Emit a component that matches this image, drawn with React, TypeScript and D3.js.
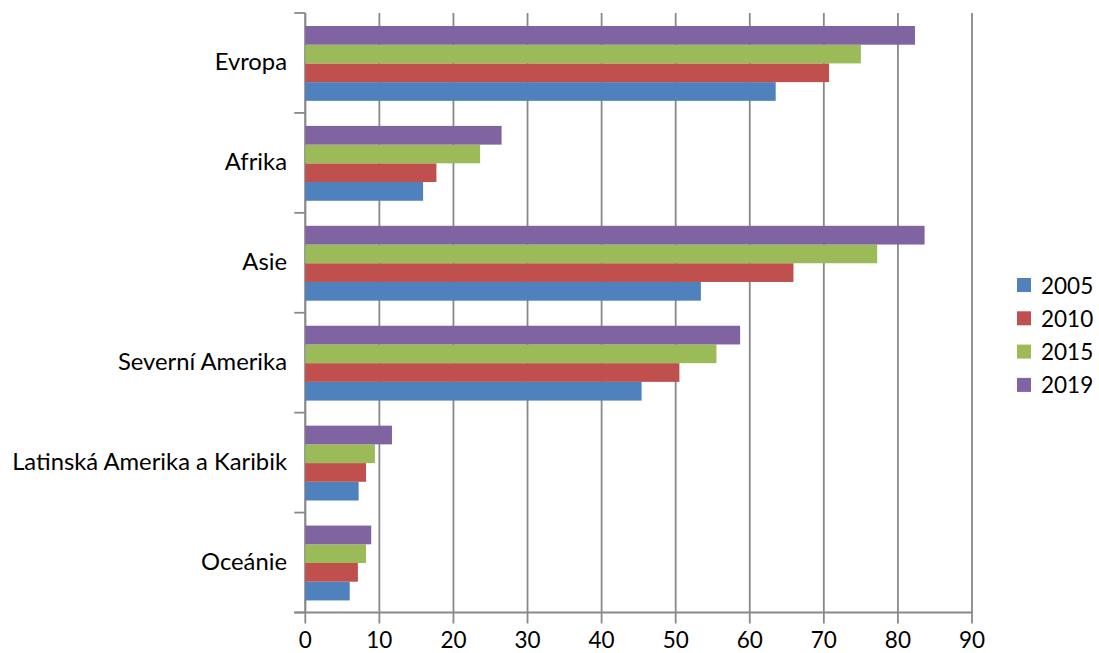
import React from "react";
import * as d3 from "d3";

const categories = ["Evropa", "Afrika", "Asie", "Severní Amerika", "Latinská Amerika a Karibik", "Oceánie"];
const seriesNames = ["2005", "2010", "2015", "2019"];
const values2005 = [63.5, 15.9, 53.4, 45.4, 7.2, 6.0];
const values2010 = [70.7, 17.7, 65.9, 50.5, 8.2, 7.1];
const values2015 = [75.0, 23.6, 77.2, 55.5, 9.4, 8.2];
const values2019 = [82.3, 26.5, 83.6, 58.7, 11.7, 8.9];
const xTicks = [0, 10, 20, 30, 40, 50, 60, 70, 80, 90];
const colors = ["#4F81BD", "#C0504D", "#9BBB59", "#8064A2"];

const W = 1099, H = 653;
const left = 305.3, right = 972, top = 13, bottom = 612.5;
const font = "Lato, 'Open Sans', sans-serif";

export default function App() {
  const seriesVals = [values2005, values2010, values2015, values2019];
  const x = d3.scaleLinear().domain([0, 90]).range([left, right]);
  const y = d3.scaleBand<string>().domain(categories).range([top, bottom]).paddingInner(0).paddingOuter(0);
  const bw = y.bandwidth();
  const groupPad = 0.13 * bw;
  const inner = d3.scaleBand<string>().domain(["2019", "2015", "2010", "2005"]).range([groupPad, bw - groupPad * 0.93]);
  const gridColor = "#898989";
  const bandEdges = d3.range(categories.length + 1).map((i) => top + i * bw);

  return (
    <svg width={W} height={H} style={{ position: "absolute", left: 0, top: 0, background: "#fff" }} fontFamily={font}>
      {xTicks.map((t) => (
        <line key={"g" + t} x1={x(t)} x2={x(t)} y1={top} y2={bottom + 11} stroke={gridColor} strokeWidth={1.8} />
      ))}
      {bandEdges.map((v, i) => (
        <line key={"yt" + i} x1={left - 11} x2={left} y1={v} y2={v} stroke={gridColor} strokeWidth={1.8} />
      ))}
      <line x1={left} x2={left} y1={top} y2={bottom} stroke={gridColor} strokeWidth={1.8} />
      <line x1={left - 11} x2={right} y1={bottom} y2={bottom} stroke={gridColor} strokeWidth={1.8} />
      {categories.map((c, ci) => (
        <g key={c}>
          {seriesNames.map((s, si) => {
            const v = seriesVals[si][ci];
            return (
              <rect key={s} x={x(0)} y={(y(c) as number) + (inner(s) as number)} width={x(v) - x(0)} height={inner.bandwidth()} fill={colors[si]} />
            );
          })}
          <text x={287} y={(y(c) as number) + bw / 2 - 2} textAnchor="end" dominantBaseline="central" fontSize={23.8} fill="#000">
            {c}
          </text>
        </g>
      ))}
      {xTicks.map((t) => (
        <text key={"xt" + t} x={x(t)} y={639} textAnchor="middle" dominantBaseline="central" fontSize={22.5} fill="#000">
          {t}
        </text>
      ))}
      {seriesNames.map((s, i) => (
        <g key={"lg" + s} transform={`translate(1017, ${278 + i * 33.3})`}>
          <rect x={0} y={0} width={14} height={14} fill={colors[i]} />
          <text x={24} y={7} dominantBaseline="central" fontSize={22.5} fill="#000">
            {s}
          </text>
        </g>
      ))}
    </svg>
  );
}
